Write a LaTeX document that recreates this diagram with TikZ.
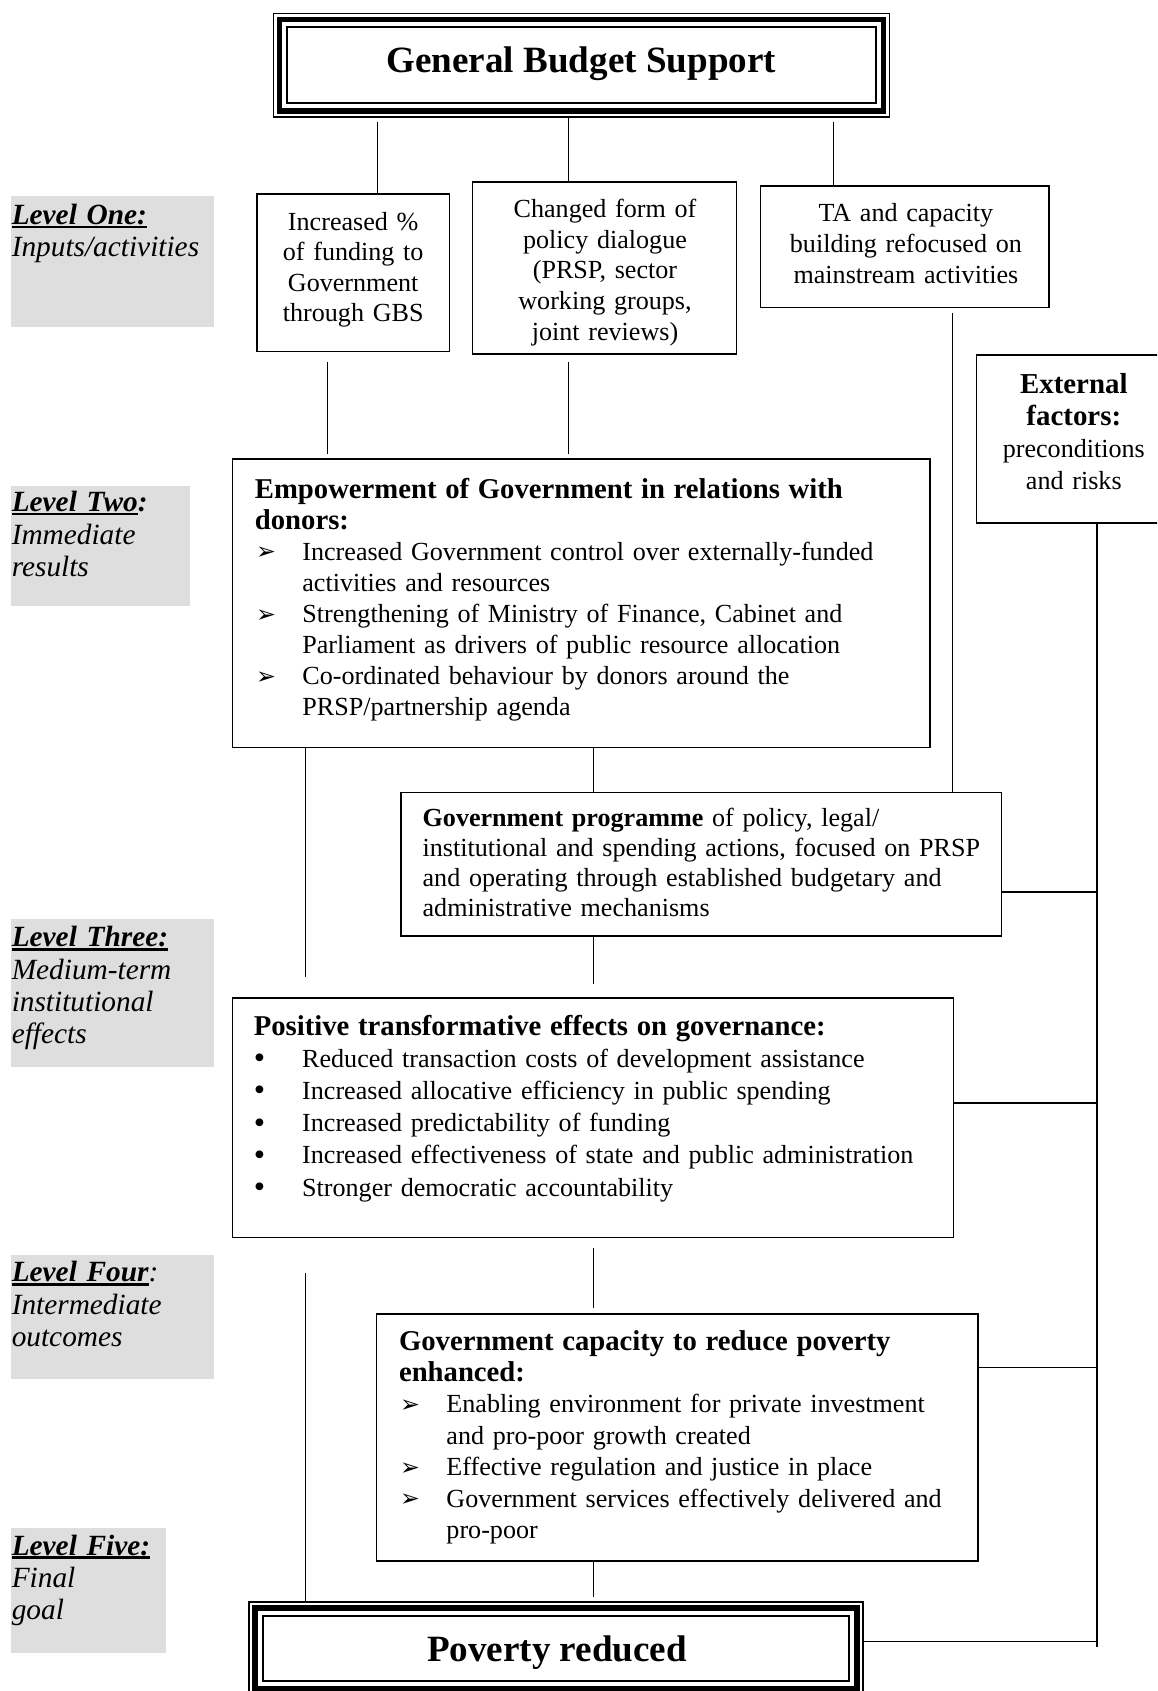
\documentclass[tikz,border=0pt]{standalone}
\usepackage{fontspec}
\setmainfont{Liberation Serif}
\newfontfamily\dejavu{DejaVu Sans}
\usetikzlibrary{fit,calc}
\definecolor{levelgrey}{RGB}{222,222,222}
\newcommand\ulx[1]{\setbox0=\hbox{#1}\rlap{\rule[-1.7pt]{\wd0}{1.1pt}}\box0}
\newcommand\brk{\hfil\break}
\newcommand\hd{\fontsize{13.3}{14.4}\selectfont\bfseries}
\newcommand\arrowb{{\dejavu\fontsize{11}{11}\selectfont\raisebox{0.2pt}{➢}}}
\newcommand\aitem[1]{\par\hangindent=22pt\hangafter=1\noindent\makebox[22pt][l]{\hspace{0.5pt}\arrowb}#1\par}
\newcommand\bitem[1]{\par\hangindent=22.4pt\hangafter=1\noindent\makebox[22.4pt][l]{{\fontsize{15}{15}\selectfont\raisebox{-0.6pt}{•}}}#1\par}
\tikzset{
  box/.style={draw, line width=0.75pt, inner sep=0pt},
  frame/.style={draw, line width=0.62pt, inner sep=0pt},
  levelbox/.style={fill=levelgrey, draw=none, inner sep=0pt},
  conn/.style={line width=0.5pt},
  extline/.style={line width=0.8pt},
  ctext/.style n args={2}{inner sep=0pt, anchor=base, align=center, text width=#1,
     font=\fontsize{12.1}{#2}\selectfont},
  ltext/.style n args={2}{inner sep=0pt, anchor=base west, text width=#1,
     font=\fontsize{12.1}{#2}\selectfont,
     execute at begin node={\rightskip=0pt plus 1fil\parfillskip=0pt plus 1fil\parindent=0pt}},
  leveltext/.style={inner sep=0pt, anchor=base west, text width=98pt,
     font=\fontsize{13.6}{15}\selectfont\itshape},
  title/.style={inner sep=0pt, anchor=base, font=\fontsize{17.2}{19}\selectfont\bfseries},
}
\begin{document}
\begin{tikzpicture}[x=0.5pt,y=-0.5pt]
\useasboundingbox (0,0) rectangle (1073,1568);
\clip (0,0) rectangle (1073,1568);

% level labels
\node[levelbox, fit={(10.3,182) (198.5,303)}] (lv1) {};
\node[levelbox, fit={(10.3,450.7) (175.9,561.7)}] (lv2) {};
\node[levelbox, fit={(10.3,852.3) (198.5,989.8)}] (lv3) {};
\node[levelbox, fit={(10.3,1163.9) (198.5,1279)}] (lv4) {};
\node[levelbox, fit={(10.3,1417.3) (154,1532.7)}] (lv5) {};
\node[leveltext] (lt1) at (10.5,208) {\ulx{\bfseries Level One:}\\Inputs/activities};
\node[leveltext] (lt2) at (10.5,474.5) {\ulx{\bfseries Level Two}\textbf{:}\\Immediate\\results};
\node[leveltext] (lt3) at (10.5,878) {\ulx{\bfseries Level Three:}\\Medium-term\\institutional\\effects};
\node[leveltext] (lt4) at (10.5,1188.6) {\ulx{\bfseries Level Four}:\\Intermediate\\outcomes};
\node[leveltext] (lt5) at (10.5,1442) {\ulx{\bfseries Level Five:}\\Final\\goal};

% top frame
\node[frame, fit={(253.5,12.3) (824.6,108.5)}] (gbs) {};
\draw[line width=2.5pt] ([shift={(3.1pt,-3.1pt)}]gbs.north west) rectangle ([shift={(-3.1pt,3.1pt)}]gbs.south east);
\draw[line width=0.93pt] ([shift={(6.65pt,-6.65pt)}]gbs.north west) rectangle ([shift={(-6.65pt,6.65pt)}]gbs.south east);
\node[title] (gbst) at (539,67.5) {General Budget Support};

% level one boxes
\node[box, fit={(238.2,180) (416.8,326)}] (boxA) {};
\node[box, fit={(438,168.5) (683,328.3)}] (boxB) {};
\node[box, fit={(705,172.2) (972.5,285)}] (boxC) {};
\node[ctext={85pt}{14.15pt}] (tA) at (327.5,213.3) {Increased \%\\of funding to\\Government\\through GBS};
\node[ctext={115pt}{14.25pt}] (tB) at (561,201.5) {Changed form of\\policy dialogue\\(PRSP, sector\\working groups,\\joint reviews)};
\node[ctext={130pt}{14.25pt}] (tC) at (840,205.6) {TA and capacity\\building refocused on\\mainstream activities};

% external factors
\node[box, fit={(905.5,329.2) (1086,484.7)}] (ext) {};
\node[ctext={80pt}{14.85pt}] (text) at (995.7,364.7) {{\fontsize{13.4}{14.85}\selectfont\bfseries External}\\{\fontsize{13.4}{14.85}\selectfont\bfseries factors:}\\preconditions\\and risks};

% level two
\node[box, fit={(215.6,425.7) (862.4,693)}] (emp) {};
\node[ltext={320pt}{14.4pt}] (temp) at (236,462) {{\hd Empowerment of Government in relations with\brk donors:\par}%
\aitem{Increased Government control over externally-funded\brk activities and resources}%
\aitem{Strengthening of Ministry of Finance, Cabinet and\brk Parliament as drivers of public resource allocation}%
\aitem{Co-ordinated behaviour by donors around the\brk PRSP/partnership agenda}};

% government programme
\node[box, fit={(371.6,734.8) (928.8,868)}] (prog) {};
\node[ltext={272pt}{13.9pt}] (tprog) at (391.5,766.6) {\textbf{Government programme} of policy, legal/\brk institutional and spending actions, focused on PRSP\brk and operating through established budgetary and\brk administrative mechanisms};

% level three
\node[box, fit={(215.6,925.2) (884.3,1147.5)}] (pos) {};
\node[ltext={320pt}{14.9pt}] (tpos) at (235,960) {{\fontsize{13.3}{14.9}\selectfont\bfseries Positive transformative effects on governance:\par}%
\bitem{Reduced transaction costs of development assistance}%
\bitem{Increased allocative efficiency in public spending}%
\bitem{Increased predictability of funding}%
\bitem{Increased effectiveness of state and public administration}%
\bitem{Stronger democratic accountability}};

% level four
\node[box, fit={(349,1218.6) (907,1447.4)}] (cap) {};
\node[ltext={270pt}{14.55pt}] (tcap) at (369.6,1252) {{\fontsize{13.3}{14.55}\selectfont\bfseries Government capacity to reduce poverty\brk enhanced:\par}%
\aitem{Enabling environment for private investment\brk and pro-poor growth created}%
\aitem{Effective regulation and justice in place}%
\aitem{Government services effectively delivered and\brk pro-poor}};

% final frame
\node[frame, fit={(230.9,1485.4) (800.3,1571.6)}] (pov) {};
\draw[line width=2.5pt] ([shift={(3.1pt,-3.1pt)}]pov.north west) rectangle ([shift={(-3.1pt,3.1pt)}]pov.south east);
\draw[line width=0.93pt] ([shift={(6.65pt,-6.65pt)}]pov.north west) rectangle ([shift={(-6.65pt,6.65pt)}]pov.south east);
\node[title] (povt) at (516.5,1541) {Poverty reduced};

% connectors
\coordinate (gA) at (350,113);
\coordinate (gB) at (527,108.5);
\coordinate (gC) at (773,113);
\coordinate (aE) at (304,336);
\coordinate (bE) at (527,336);
\coordinate (cP) at (883,290);
\coordinate (mx) at (550,0);
\coordinate (eL) at (283,906);
\coordinate (pT) at (550,912);
\coordinate (pC) at (550,1157);
\coordinate (lL) at (283,1180);
\coordinate (rB) at (1017.5,1527);
\coordinate (h1) at (1017.5,827);
\coordinate (h2) at (1017.5,1023);
\coordinate (h3) at (1017.5,1268);
\coordinate (h4) at (1017.5,1522);

\draw[conn] (gA) -- (gA |- boxA.north);
\draw[conn] (gB) -- (gB |- boxB.north);
\draw[conn] (gC) -- (gC |- boxC.north);
\draw[conn] (aE) -- ([yshift=2pt]aE |- emp.north);
\draw[conn] (bE) -- ([yshift=2pt]bE |- emp.north);
\draw[conn] (cP) -- (cP |- prog.north);
\draw[conn] (eL |- emp.south) -- (eL);
\draw[conn] (mx |- emp.south) -- (mx |- prog.north);
\draw[conn] (mx |- prog.south) -- (pT);
\draw[conn] (pC) -- ([yshift=2.3pt]mx |- cap.north);
\draw[conn] (lL) -- (lL |- pov.north);
\draw[conn] (mx |- cap.south) -- ([yshift=2pt]mx |- pov.north);

\draw[extline] (rB |- ext.south) -- (rB);
\draw[extline] (h1 -| prog.east) -- (h1);
\draw[extline] (h2 -| pos.east) -- (h2);
\draw[extline] (h3 -| cap.east) -- (h3);
\draw[extline] (h4 -| pov.east) -- (h4);
\end{tikzpicture}
\end{document}
